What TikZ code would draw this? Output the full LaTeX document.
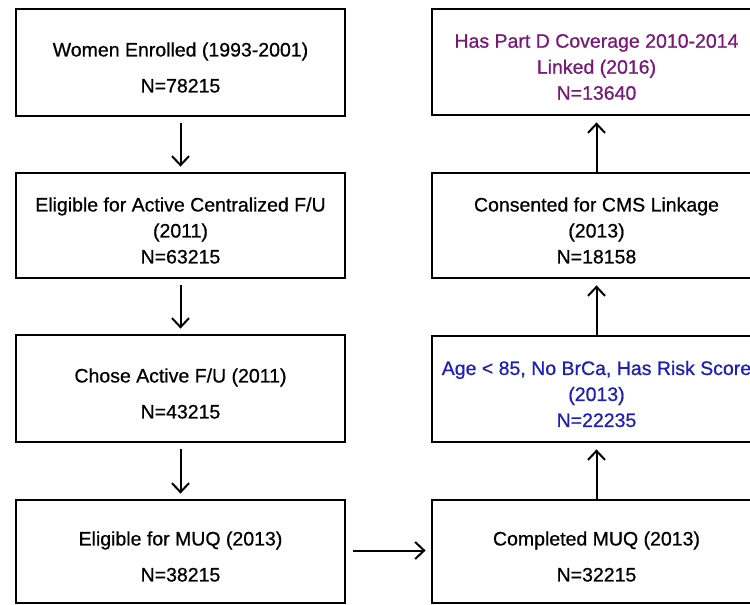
\documentclass[tikz,border=0pt]{standalone}
\usepackage{fontspec}
\setmainfont{Liberation Sans}[FakeBold=0.7]
\usetikzlibrary{arrows.meta}
\definecolor{purp}{RGB}{120,25,120}
\definecolor{blu}{RGB}{30,30,185}
\tikzset{
  box/.style={draw=black, line width=2.8pt, minimum width=329pt, inner sep=0pt},
  txt/.style={align=center, font=\fontsize{19.5}{26}\selectfont, yshift=-5pt},
  arr/.style={line width=2pt, -{Straight Barb[length=9pt,width=17pt,line width=2pt]}}
}
\begin{document}
\begin{tikzpicture}[x=1pt,y=-1pt]
\useasboundingbox (0,0) rectangle (750,605);
\clip (0,0) rectangle (750,605);
\fill[white] (0,0) rectangle (750,605);
% left column
\node[box, minimum height=107pt, label={[txt]center:Women Enrolled (1993-2001)\\[10pt]N=78215}] (l1) at (180.5,62.5) {};
\node[box, minimum height=105pt, label={[txt]center:Eligible for Active Centralized F/U\\(2011)\\N=63215}] (l2) at (180.5,225.5) {};
\node[box, minimum height=107pt, label={[txt]center:Chose Active F/U (2011)\\[10pt]N=43215}] (l3) at (180.5,388.5) {};
\node[box, minimum height=103pt, label={[txt]center:Eligible for MUQ (2013)\\[10pt]N=38215}] (l4) at (180.5,551.5) {};
% right column
\node[box, minimum height=106pt, label={[txt,text=purp]center:Has Part D Coverage 2010-2014\\Linked (2016)\\N=13640}] (r1) at (596.5,62) {};
\node[box, minimum height=105pt, label={[txt]center:Consented for CMS Linkage\\(2013)\\N=18158}] (r2) at (596.5,225.5) {};
\node[box, minimum height=106pt, label={[txt,text=blu]center:Age < 85, No BrCa, Has Risk Score\\(2013)\\N=22235}] (r3) at (596.5,389) {};
\node[box, minimum height=103pt, label={[txt]center:Completed MUQ (2013)\\[10pt]N=32215}] (r4) at (596.5,551.5) {};
% arrows
\draw[arr] ([yshift=-6pt]l1.south) -- ([yshift=5pt]l2.north);
\draw[arr] ([yshift=-6pt]l2.south) -- ([yshift=5pt]l3.north);
\draw[arr] ([yshift=-6pt]l3.south) -- ([yshift=5pt]l4.north);
\draw[arr] ([xshift=7pt,yshift=1pt]l4.east) -- ([xshift=-5pt,yshift=1pt]r4.west);
\draw[arr] (r4.north) -- ([yshift=-6pt]r3.south);
\draw[arr] (r3.north) -- ([yshift=-6pt]r2.south);
\draw[arr] (r2.north) -- ([yshift=-6pt]r1.south);
\end{tikzpicture}
\end{document}
